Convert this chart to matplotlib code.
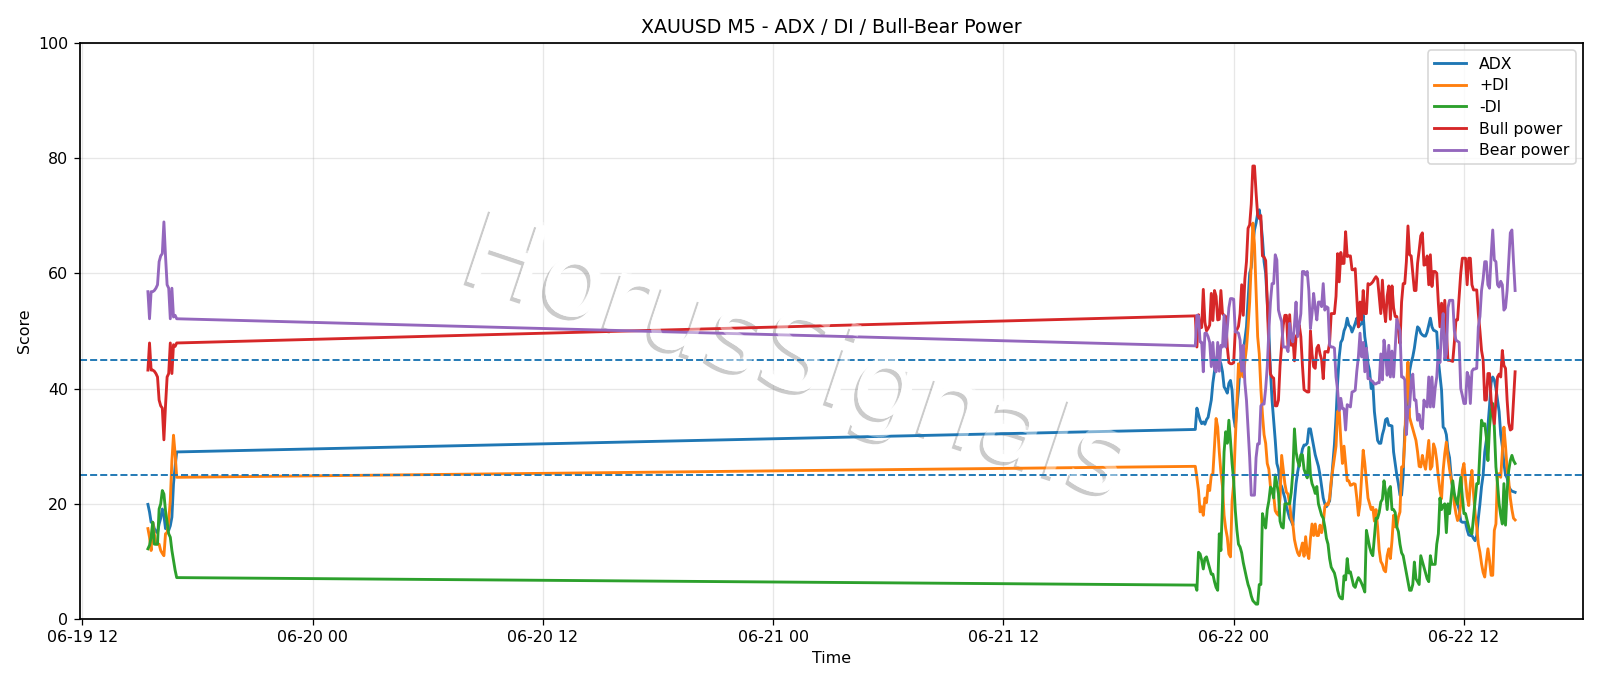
import matplotlib
matplotlib.use("Agg")
import matplotlib.pyplot as plt
import matplotlib.dates as mdates
import matplotlib.patheffects as pe
import numpy as np
import pandas as pd

# Afternoon session of 19 June (5-minute bars)
adx_a = [19.9,18.6,16.8,16.8,15.7,15.2,15,16.5,17.5,19.1,18,15.7,15.7,15.4,16.2,17.7,23.5,26.4,29]
pdi_a = [15.7,14.2,11.9,16.8,14.8,13,13,13,11.9,11.4,11,14.8,15,17,20.6,27.5,31.9,28.7,24.6]
mdi_a = [12.2,12.8,14.2,16.8,13,13,13,19.1,20,22.3,21.7,18.8,16.8,14.8,14.2,11.9,10.2,8.5,7.2]
bull_a = [43.2,47.9,43.2,43.2,43,42.6,42,38,37,36.6,31.1,37,42,42.6,47.9,42.6,47.6,47.3,47.9]
bear_a = [56.8,52.1,56.8,56.8,57,57.4,58,62,63,63.4,68.9,63,58,57.4,52.1,57.4,52.4,52.7,52.1]

# Session from the evening of 21 June to 22 June
adx_b = [32.9,
    36.6,35.5,34.5,33.9,34.2,33.8,34.6,35,36.5,38,
    41,43,45,45.8,45,44.3,42.9,40.3,39.8,39.2,
    40.9,41.4,39.7,35,33.3,36.8,39.7,43.8,46.5,46.6,
    48.5,50.7,55.4,60,61,65,67.5,68.7,70.4,71,
    69,66,62,60,55,50,43,38,34.5,31,
    27,26,23.5,23,22,21,19.5,18.5,17.5,17,
    16.3,20.5,23.5,25.5,27,28,29.5,30.2,30.2,30.5,
    33,33,31.5,30,28.5,27.5,26.5,25,23,21,
    20,19.5,20,20.5,23.5,27,30.3,35,41,45.5,
    48,48.5,50,50.7,52.2,51,50.7,49.8,50.5,51.3,
    52.2,50.7,51,51.3,52.7,49,47,44.3,43,40,
    41,36,33.5,31,30.5,30.5,32,33,34.6,34.8,
    33.6,33.6,33.5,29,27,25,23.5,21.5,21.5,25,
    32.8,35,35,43,44.5,45.5,47,49,50.7,50.4,
    49.6,49.3,49.1,49.1,49.8,51,52.2,50.7,50.1,50,
    49.8,44.9,42.3,39.7,33.3,33,32,29.3,28,24.7,
    22.5,21.5,20,20,19,17,16.8,16.8,16.8,15.5,
    14.6,14.5,14.5,14,13.6,14.5,17.5,20,23,25,
    29,31,33.5,37,41,42,41.5,40,38,36,
    32,30,27,25,24.5,23,22.5,22.2,22.1,22]

pdi_b = [26.5,
    24.5,22.3,18.6,19.5,18,21,20.2,23.2,22.3,25,
    25.2,30,34.8,33.3,29,25.5,23,18,15.7,14.2,
    11.3,10.8,20.5,23.5,31,37.4,44.3,42,44.7,42,
    44.7,47,50.7,55,62,68.7,65,57,49,46,
    40,35.5,32,30.5,27,26,23,22,21.5,18.8,
    18.3,18,21,28.4,26,23.5,22,21.7,20,17.5,
    16.5,13.8,12.5,11.5,11,12,13.2,10.9,14.3,11.5,
    10.5,14,16.5,14.5,16.5,14.5,14.5,16.3,15,16.5,
    19.5,20,19.8,21,24,26,28,30,36,36.2,
    31,27,30,27,24,24,23.2,23.3,23.5,23.4,
    21,18,20,24.5,29.3,27,24,21,20,19,
    19.4,17,19,16,12,10,9.5,8.5,8.2,11,
    12.2,10.5,13.6,18,16,16,17.7,18.6,26.4,26.4,
    31,40,44.6,35,34,33,32,31,29,26.5,
    26.4,28.4,27,26,28.5,31,26,26.5,30.4,29.5,
    27.5,24.6,22.3,20.9,25.8,28.7,30.7,28,26,24.3,
    22.9,20,18.3,17.1,17.7,20,25.8,27,24,21.2,
    19.7,23.5,25.8,21.8,18.3,16,13,11.6,9.6,8.1,
    7.3,10,12.2,10.2,7.6,7.6,15.4,16.5,25.2,25.2,
    24.6,29,33.3,30,26,24,21,19,17.5,17.2]

mdi_b = [5.9,
    5,11.6,11.3,10.2,8.7,10.5,10.8,9.8,8.8,7.8,
    7.8,6.5,5.5,5,14.8,11.9,20,29,32.5,30.5,
    34.5,31,27,24,18.9,15.5,13,12.5,11.5,9.8,
    8.5,7.2,6,5.2,4,3.2,2.9,2.6,2.6,6,
    6,18.3,17,15.8,19,20.5,22.9,22.5,21,25,
    23.5,21.8,17,16,15.8,20,20,20,20,22,
    25.5,33,29,27.5,26.5,28.5,28.5,26,25.2,24.5,
    29.8,25,23.5,22.8,21.8,23,20,19,18,17.5,
    16,14,13,10.5,9,8.5,8,6.8,5,4,
    3.6,3.5,7.5,6.8,10.5,8,8.2,7,5.8,5.5,
    6.5,7.2,6.8,6.2,5.5,4.7,15.4,14,12.5,11.5,
    11,14.2,17.5,17.5,18.5,20.3,20.8,24,22,19,
    22.5,23,19,19,18.5,16,15.2,13,11.5,11,
    9.5,8,6.5,5,5,6,9.9,7,6.5,6,
    11,10,9,8,7,6.5,11,9.5,9.5,9.5,
    13,14.8,21,19,19.7,20,15,20,18.3,21.2,
    24,21.7,20.6,20,22.3,24.6,21.2,18.3,18.3,17.1,
    16,15.1,14.8,17.7,20.6,23.5,23.5,29.3,34.5,33.6,
    33.9,31.6,27.5,33.3,36.2,37.4,33.3,26.4,23.5,20,
    18,16.5,23.5,16.3,22.3,25.8,27.5,28.4,27.5,27]

bull_b = [52.6,
    47.2,52.8,50.5,50.6,57.2,51.5,50,50.4,51,56.5,
    51.8,57,56,51.9,52,57,53,52.7,52.5,47.2,
    44.5,44.3,44.3,44.5,50,50.2,50.8,53,58,52.7,
    59,62,67.8,68.4,72,78.6,78.6,74,70,69.5,
    70,63,62.8,62.2,55,47,42.5,42,41.8,37,
    37,38,44,47.5,51,52.7,52.7,47.2,52.8,47.5,
    49,44.8,49,49.5,51,49,44,39.8,39.6,39.4,
    39.4,50,46,43.8,43.5,47,47.5,46,45,41.7,
    46.4,46.4,46.3,48,53,53,53,56,63.4,58.5,
    63.6,61.7,61.7,67.2,62.9,63,63,60.6,60.6,60.8,
    55.9,50.7,55,51.9,57,53,53,58.2,58,58.2,
    58.5,59,59.4,59,56,53,58.8,54,51.6,56,
    57.8,52,57.8,54,52.5,52.5,50,47.8,55,58.2,
    58.2,62,68.2,63.2,63,60,57,57,61.7,64,
    66.5,67,61.4,61.5,63,58,63.2,57.7,60.3,60.3,
    60,54.8,50.7,54.8,50.7,55.3,50,44.9,44.9,44.8,
    44.7,48,51.9,51.9,56,60,62.6,62.6,62.6,58,
    62.6,62.6,58,57.1,57.1,57.1,53,50,46.6,45,
    38,38,42.6,42.6,38,36,33.9,38,42,42.5,
    42,46.6,44,43.5,38,34,32.8,33,38,42.9]

bear_b = [47.4,
    52.7,52.6,48.1,48,42.9,49.6,49.6,49,48,43.8,
    48,43.5,42.9,48,43,47.5,47.2,52.7,47.2,50.4,
    54,55.6,55.6,55.5,49.8,49.8,49.6,48.4,43,47.5,
    41,38,33,28,21.5,21.5,21.5,28,30.4,30.4,
    37,37.3,37.3,40,43.8,50,55,58.2,58.2,63.2,
    62.3,53.6,52.5,51.6,47.2,47.2,47.2,46.4,51.3,49,
    48.1,51,55,49,51,53,60.3,60.3,59.7,60.3,
    57,50.4,53,56.5,54,51.9,55,55,54.2,58.2,
    53.6,54.2,54,47.5,47.2,47.2,47,42,39.7,36.2,
    38.3,36.5,36.5,32.8,37.2,37,36.8,39.4,39.5,39.7,
    43,45.5,49.6,45.5,48,42.9,47,41.7,41.7,41.4,
    41.2,40.8,40.8,41,41,46,41.5,48.4,46,42.3,
    47.5,42,46.5,42,47,52,51,50,42,42,
    41.5,32,36.8,36.8,41,42.5,38,38,34.5,35.5,
    33.5,33,38,37,36.8,42,36.8,42,36.8,40,
    42,46.6,44.5,50,53,45,46,54,55.3,55.3,
    55.3,50,48.4,48.2,48,40,38.8,37.4,37.4,42.8,
    42,37.4,43,43.4,43.4,43.5,50.7,52.5,57,59,
    62,62,58,57.4,63,67.5,62.3,62,58,57.6,
    58.6,58,53.6,54,57,62,67,67.5,62,57]

series_names = ["ADX", "+DI", "-DI", "Bull power", "Bear power"]
thresholds = [45, 25]

times = pd.date_range("2025-06-19 15:25", periods=len(adx_a), freq="5min").append(
    pd.date_range("2025-06-21 22:00", periods=len(adx_b), freq="5min"))

plt.rcParams["axes.linewidth"] = 1.1

fig, ax = plt.subplots(figsize=(14, 6), dpi=114.34)
fig.subplots_adjust(left=0.0497, right=0.9892, top=0.9378, bottom=0.0975)

columns = [adx_a + adx_b, pdi_a + pdi_b, mdi_a + mdi_b, bull_a + bull_b, bear_a + bear_b]
for name, column in zip(series_names, columns):
    ax.plot(times, column, label=name, linewidth=1.8)

for level in thresholds:
    ax.axhline(level, linestyle="--", linewidth=1.2)

ax.set_ylim(0, 100)
ax.set_title("XAUUSD M5 - ADX / DI / Bull-Bear Power")
ax.set_xlabel("Time", labelpad=3.6)
ax.set_ylabel("Score")
ax.xaxis.set_major_locator(mdates.HourLocator(byhour=[0, 12]))
ax.xaxis.set_major_formatter(mdates.DateFormatter("%m-%d %H"))
ax.grid(True, alpha=0.3)
ax.legend(loc="upper right", fontsize=9.9, labelspacing=0.42, handletextpad=0.85)

# Brand mark: opaque face with a grey shadow beneath the curves, plus a thin
# white veil above them so the curves fade where they cross the letters.
brand = dict(x=0.476, y=0.448, s="HorusSignals", transform=ax.transAxes,
             ha="center", va="center", rotation=-18.5, rotation_mode="anchor",
             fontsize=67, color="white")
ax.text(zorder=1.6,
        path_effects=[pe.withSimplePatchShadow(offset=(-2.2, -2.2),
                                               shadow_rgbFace="#8c8c8c", alpha=0.45),
                      pe.Normal()],
        **brand)
ax.text(zorder=10, alpha=0.45, **brand)

fig.savefig("out.png", dpi=114.34)
